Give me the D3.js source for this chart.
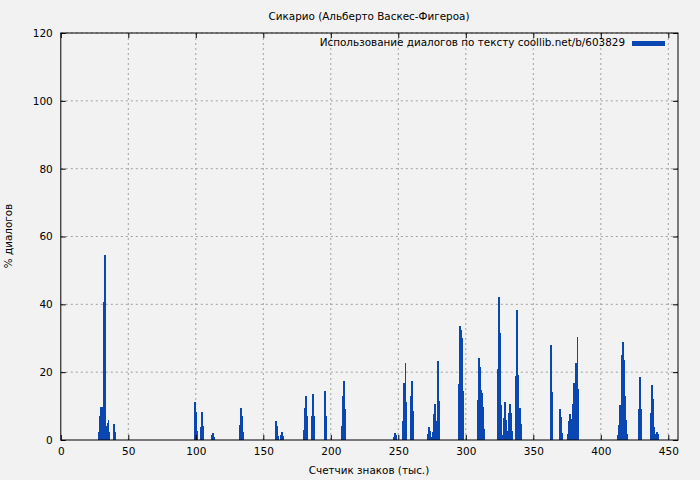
<!DOCTYPE html>
<html><head><meta charset="utf-8">
<script src="https://cdn.jsdelivr.net/npm/d3@7"></script>
<style>body{margin:0;background:#f2f2f2}svg{font-family:"DejaVu Sans",sans-serif}</style>
</head><body><svg id="c" width="700" height="480"></svg>
<script>
const title = "Сикарио (Альберто Васкес-Фигероа)";
const legendLabel = "Использование диалогов по тексту coollib.net/b/603829";
const xLabel = "Счетчик знаков (тыс.)";
const yLabel = "% диалогов";
const xTicks = [0,50,100,150,200,250,300,350,400,450];
const yTicks = [0,20,40,60,80,100,120];
const positions = [28.3,29,29.8,30.5,31.3,32,32.5,33.1,33.9,34.6,35.3,36.1,38.7,39.4,40.2,
 98.7,99.4,100.2,100.9,103.8,104.5,105.2,111.3,112,112.7,113.5,132.7,133.5,134.2,134.9,
 158.7,159.4,160.1,160.9,162.4,163.1,163.8,164.6,
 180.1,180.8,181.5,182.3,186,186.8,187.6,195,195.7,196.5,208.3,209,209.8,210.5,
 246.8,247.5,248.3,253.5,254.2,255,255.7,258.7,259.4,260.1,260.9,
 271.9,272.7,273.5,274.2,275.7,276.4,277.2,277.9,278.7,279.4,280.1,
 294.9,295.7,296.4,297.2,297.9,308.9,309.6,310.3,311.1,311.9,312.6,313.3,
 323.7,324.4,325.2,325.9,326.7,327.4,328.1,328.9,329.6,331.1,331.9,332.7,333.4,334.1,
 337.1,337.9,338.6,339.3,340.1,340.8,
 362.4,363.1,363.9,369.1,369.8,370.5,371.3,375.7,376.4,377.2,377.9,378.7,
 379.4,380.1,380.9,381.6,382.4,383.1,
 412.7,413.5,414.2,415,415.7,416.4,417.2,417.9,418.7,419.4,428.3,429,429.7,
 437.2,437.9,438.7,439.4,440.1,440.9,441.6,442.4];
const dialog = [2.4,7,9.8,9.6,13.6,40.7,54.6,27,4,5,5.9,2.5,2,4.6,2.4,
 5.3,11.2,8.3,2.7,3.8,8.3,4.1,0.3,1.5,2.1,0.9,4.4,9.4,7.1,2.4,
 2.7,5.6,4.1,1.2,0.3,1.5,2.4,1.2,
 3,9.5,13,7,7,13.5,7,7,14.5,7,4,13,17.5,9,
 0.9,2.1,1.5,5.6,16.8,22.7,11.2,4.1,13,17.4,8.6,
 1.8,3.8,2.6,0.9,2.3,7.7,10.6,5.6,17.4,23.3,11.5,
 16.5,33.6,32.4,30.1,14.5,11.8,24.2,21.5,14.7,13.9,9.7,3.2,
 21,42.2,31.6,10.3,0.3,1.5,6.5,11.2,5.9,2.6,7.9,10.6,7.9,2.6,
 18.9,38.3,19.2,6.8,9.4,4.7,
 14.1,28,14.1,4.4,9.1,6.8,2.1,1.8,5.6,7.7,6.2,2.4,
 10.6,16.8,8.3,22.7,30.4,15,
 1.5,4.4,10.3,18,25.1,28.9,23.6,13,5.9,1.8,9.1,18.6,9.1,
 7.9,16.2,12.1,3.8,1.8,0.9,2.4,1.8];

const svg = d3.select("#c");
const L=60.8, R=678, T=33, B=440;
const x = d3.scaleLinear().domain([0,(R-L)/1.35]).range([L,R]);
const y = d3.scaleLinear().domain([0,120]).range([B,T]);
const color="#0a47b0";

svg.append("rect").attr("width",700).attr("height",480).attr("fill","#f2f2f2");
const g=svg.append("g");
g.selectAll(".gx").data(xTicks.slice(1)).join("line").attr("x1",d=>x(d)).attr("x2",d=>x(d)).attr("y1",T).attr("y2",B)
 .attr("stroke","#a0a0a0").attr("stroke-dasharray","2,3");
g.selectAll(".gy").data(yTicks.slice(1)).join("line").attr("y1",d=>y(d)).attr("y2",d=>y(d)).attr("x1",L).attr("x2",R)
 .attr("stroke","#a0a0a0").attr("stroke-dasharray","2,3");

const bw = x(0.8)-x(0);
svg.append("g").attr("shape-rendering","crispEdges").selectAll("rect").data(positions.map((p,i)=>[p,dialog[i]])).join("rect")
 .attr("x",d=>x(d[0])-bw/2).attr("width",bw+0.3).attr("y",d=>y(d[1])).attr("height",d=>B-y(d[1])).attr("fill",color);

svg.append("g").attr("transform",`translate(0,${B})`).call(d3.axisBottom(x).tickValues(xTicks).tickSize(-5).tickPadding(8));
svg.append("g").attr("transform",`translate(${L},0)`).call(d3.axisLeft(y).tickValues(yTicks).tickSize(-5).tickPadding(8));
svg.append("g").attr("transform",`translate(0,${T})`).call(d3.axisTop(x).tickValues(xTicks).tickSize(-5).tickFormat(""));
svg.append("g").attr("transform",`translate(${R},0)`).call(d3.axisRight(y).tickValues(yTicks).tickSize(-5).tickFormat(""));
svg.selectAll(".domain").remove();
svg.selectAll(".tick text").attr("font-size",10.5).attr("fill","#000").attr("font-family","DejaVu Sans");
svg.append("rect").attr("x",L).attr("y",T).attr("width",R-L).attr("height",B-T).attr("fill","none").attr("stroke","#000");

svg.append("text").attr("x",369).attr("y",20).attr("text-anchor","middle").attr("font-size",10.4).text(title);
svg.append("text").attr("x",369).attr("y",474).attr("text-anchor","middle").attr("font-size",10.4).text(xLabel);
svg.append("text").attr("transform","translate(12,236) rotate(-90)").attr("text-anchor","middle").attr("font-size",10.4).text(yLabel);
svg.append("text").attr("x",625).attr("y",46).attr("text-anchor","end").attr("font-size",10.4).text(legendLabel);
svg.append("rect").attr("x",632).attr("y",41).attr("width",33).attr("height",5).attr("fill",color);
</script></body></html>
